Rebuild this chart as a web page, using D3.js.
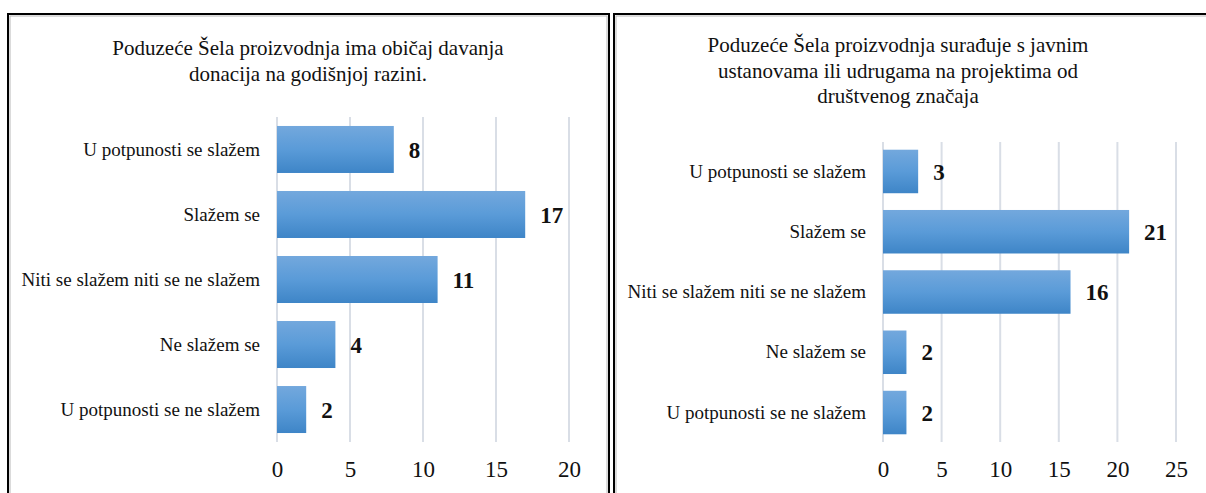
<!DOCTYPE html>
<html>
<head>
<meta charset="utf-8">
<script src="https://cdn.jsdelivr.net/npm/d3@7.9.0/dist/d3.min.js"></script>
<style>
  html, body { margin: 0; padding: 0; background: #fff; }
  svg { display: block; font-family: "Liberation Serif", "Times New Roman", serif; }
</style>
</head>
<body>
<svg id="chart" width="1206" height="493"></svg>
<script>
// answer categories, same order in both panels (top to bottom)
const categories = [
  'U potpunosti se slažem',
  'Slažem se',
  'Niti se slažem niti se ne slažem',
  'Ne slažem se',
  'U potpunosti se ne slažem'
];

// panel 1: donations
const donationTitle = ['Poduzeće Šela proizvodnja ima običaj davanja', 'donacija na godišnjoj razini.'];
const donationValues = [8, 17, 11, 4, 2];
const donationTicks = [0, 5, 10, 15, 20];

// panel 2: cooperation with public institutions
const cooperationTitle = ['Poduzeće Šela proizvodnja surađuje s javnim', 'ustanovama ili udrugama na projektima od', 'društvenog značaja'];
const cooperationValues = [3, 21, 16, 2, 2];
const cooperationTicks = [0, 5, 10, 15, 20, 25];

const svg = d3.select('#chart');

// bar gradient (light top, darker bottom)
const defs = svg.append('defs');
const grad = defs.append('linearGradient')
  .attr('id', 'barGrad')
  .attr('x1', 0).attr('y1', 0).attr('x2', 0).attr('y2', 1);
grad.append('stop').attr('offset', '0%').attr('stop-color', '#73a8dd');
grad.append('stop').attr('offset', '50%').attr('stop-color', '#5a9bd8');
grad.append('stop').attr('offset', '100%').attr('stop-color', '#3e85c7');

function drawPanel(cfg) {
  const g = svg.append('g');

  // frame: black border with thin grey inner line
  g.append('rect')
    .attr('x', cfg.frame[0]).attr('y', 14)
    .attr('width', cfg.frame[1]).attr('height', 520)
    .attr('fill', 'none').attr('stroke', '#000').attr('stroke-width', 2);
  g.append('rect')
    .attr('x', cfg.frame[0] + 2).attr('y', 16)
    .attr('width', cfg.frame[1] - 4).attr('height', 520)
    .attr('fill', 'none').attr('stroke', '#b8b8b8').attr('stroke-width', 1);

  // title
  g.append('text')
    .attr('text-anchor', 'middle')
    .attr('font-size', 21)
    .attr('fill', '#111')
    .selectAll('tspan')
    .data(cfg.title)
    .join('tspan')
    .attr('x', cfg.titleX)
    .attr('y', (d, i) => cfg.titleY + i * 25.5)
    .text(d => d);

  const x = d3.scaleLinear().domain(cfg.domain).range(cfg.xRange);
  const y = d3.scaleBand()
    .domain(categories)
    .range(cfg.yRange)
    .paddingInner(cfg.padIn)
    .paddingOuter(cfg.padOut);

  // vertical gridlines
  g.append('g')
    .selectAll('line')
    .data(cfg.ticks)
    .join('line')
    .attr('x1', d => x(d)).attr('x2', d => x(d))
    .attr('y1', cfg.yRange[0]).attr('y2', cfg.yRange[1])
    .attr('stroke', '#d9dee6').attr('stroke-width', 2);

  // bars
  const data = categories.map((c, i) => ({ label: c, value: cfg.values[i] }));
  g.append('g')
    .selectAll('rect')
    .data(data)
    .join('rect')
    .attr('x', x(0))
    .attr('y', d => y(d.label))
    .attr('width', d => x(d.value) - x(0))
    .attr('height', y.bandwidth())
    .attr('fill', 'url(#barGrad)');

  // value labels
  g.append('g')
    .selectAll('text')
    .data(data)
    .join('text')
    .attr('x', d => x(d.value) + 15)
    .attr('y', d => y(d.label) + y.bandwidth() / 2)
    .attr('dy', '0.35em')
    .attr('font-size', 23)
    .attr('font-weight', 'bold')
    .attr('fill', '#111')
    .text(d => d.value);

  // category axis
  const yAxis = g.append('g')
    .attr('transform', `translate(${x(0)},0)`)
    .call(d3.axisLeft(y).tickSize(0).tickPadding(17))
    .attr('font-family', null)
    .attr('font-size', 19);
  yAxis.select('.domain').remove();
  yAxis.selectAll('text').attr('fill', '#111');

  // value axis (labels only)
  const xAxis = g.append('g')
    .attr('transform', `translate(0,${cfg.tickY})`)
    .call(d3.axisBottom(x).tickValues(cfg.ticks).tickSize(0).tickPadding(0))
    .attr('font-family', null)
    .attr('font-size', 23);
  xAxis.select('.domain').remove();
  xAxis.selectAll('text')
    .attr('y', 0).attr('dy', 0)
    .attr('fill', '#111');
}

drawPanel({
  frame: [8, 601],
  title: donationTitle,
  titleX: 308,
  titleY: 55,
  values: donationValues,
  ticks: donationTicks,
  domain: [0, 20],
  xRange: [277, 569],
  yRange: [117, 442],
  padIn: 0.277,
  padOut: 0.138,
  tickY: 477
});

drawPanel({
  frame: [614, 620],
  title: cooperationTitle,
  titleX: 898,
  titleY: 52,
  values: cooperationValues,
  ticks: cooperationTicks,
  domain: [0, 25],
  xRange: [883, 1176],
  yRange: [142, 442],
  padIn: 0.278,
  padOut: 0.128,
  tickY: 477
});
</script>
</body>
</html>
